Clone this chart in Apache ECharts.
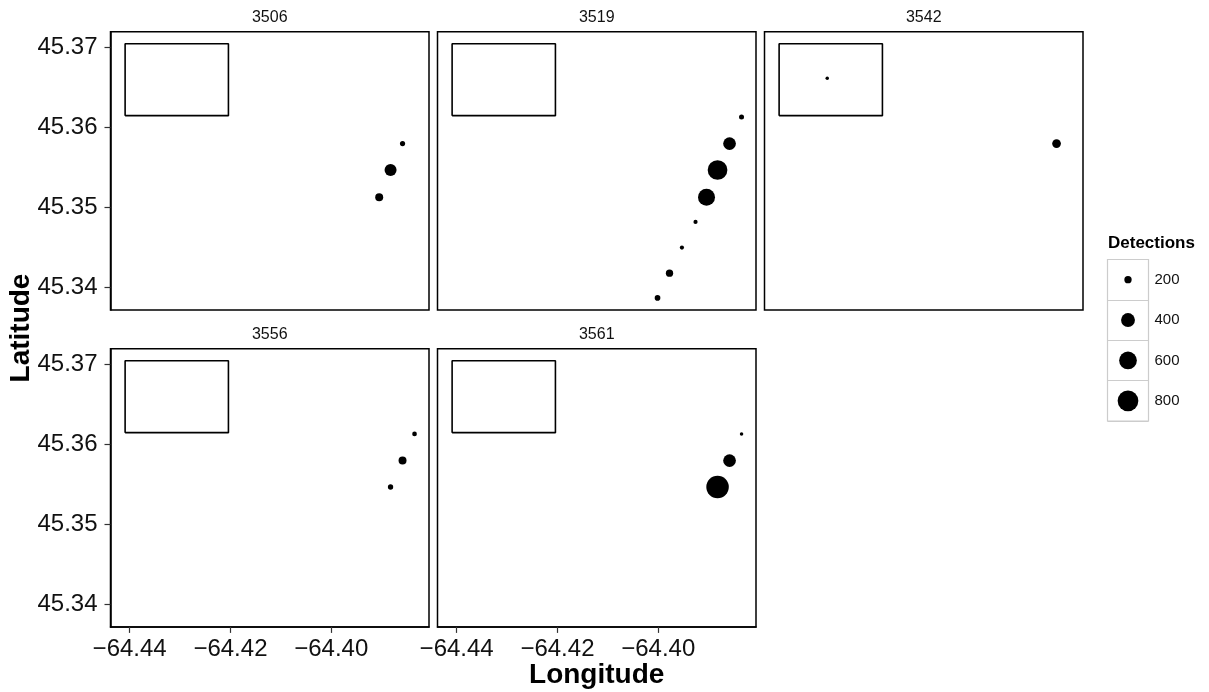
<!DOCTYPE html>
<html>
<head>
<meta charset="utf-8">
<script src="https://cdn.jsdelivr.net/npm/echarts@6/dist/echarts.min.js"></script>
<style>
html,body{margin:0;padding:0;background:#fff;}
#chart{width:1209px;height:692px;}
</style>
</head>
<body>
<div id="chart"></div>
<script>
// ---- data ----
const tagIds = ['3506', '3519', '3542', '3556', '3561'];

const lon3506 = [-64.38585, -64.38823, -64.39048];
const lat3506 = [45.3580, 45.3547, 45.3513];
const det3506 = [175, 323, 212];

const lon3519 = [-64.38347, -64.38585, -64.38823, -64.39042, -64.39260, -64.39530, -64.39776, -64.40014];
const lat3519 = [45.36134, 45.3580, 45.3547, 45.3513, 45.3482, 45.3450, 45.3418, 45.3387];
const det3519 = [174, 350, 729, 558, 170, 170, 200, 179];

const lon3542 = [-64.43135, -64.38585];
const lat3542 = [45.36618, 45.3580];
const det3542 = [169, 227];

const lon3556 = [-64.38347, -64.38585, -64.38823];
const lat3556 = [45.36134, 45.3580, 45.3547];
const det3556 = [172, 212, 176];

const lon3561 = [-64.38347, -64.38585, -64.38823];
const lat3561 = [45.36134, 45.3580, 45.3547];
const det3561 = [169, 350, 939];

const rectLon = [-64.4409, -64.4204];
const rectLat = [45.3615, 45.3705];

const xTicks = [-64.44, -64.42, -64.40];
const yTicks = [45.34, 45.35, 45.36, 45.37];
const legendValues = [200, 400, 600, 800];

const xRange = [-64.4438, -64.3806];
const yRange = [45.3372, 45.3720];

// ---- build ----
const FONT = '"Liberation Sans", Arial, Helvetica, sans-serif';
const lons = [lon3506, lon3519, lon3542, lon3556, lon3561];
const lats = [lat3506, lat3519, lat3542, lat3556, lat3561];
const dets = [det3506, det3519, det3542, det3556, det3561];

const allDet = [].concat(...dets);
const DMIN = Math.min(...allDet);
const DMAX = Math.max(...allDet);
function sizeOf(v) {
  const t = Math.max(0, v - DMIN) / (DMAX - DMIN);
  return 3.5 + 19 * Math.sqrt(t);
}
function fmt(v) {
  const s = Math.abs(v).toFixed(2);
  return (v < 0 ? '\u2212' : '') + s;
}

const colLeft = [110.5, 437.5, 764.5];
const rowTop = [31.7, 348.7];
const PW = 318.5, PH = 278.2;
const pos = [[0, 0], [0, 1], [0, 2], [1, 0], [1, 1]];
const showXLab = [false, false, false, true, true];
const showYLab = [true, false, false, true, false];

const grids = [], xAxes = [], yAxes = [], series = [], graphics = [];

tagIds.forEach((tag, i) => {
  const [r, c] = pos[i];
  grids.push({
    left: colLeft[c], top: rowTop[r], width: PW, height: PH,
    show: true, borderColor: '#000', borderWidth: 1.5, backgroundColor: '#fff'
  });
  xAxes.push({
    type: 'value', gridIndex: i, min: xRange[0], max: xRange[1], scale: true,
    splitLine: { show: false },
    axisLine: { show: showXLab[i], onZero: false, lineStyle: { color: '#000', width: 1.5 } },
    axisTick: { show: showXLab[i], length: 6, customValues: xTicks, lineStyle: { color: '#333', width: 1.2 } },
    axisLabel: { show: showXLab[i], customValues: xTicks, formatter: fmt, fontSize: 24,
      color: '#111', fontFamily: FONT, margin: 10 }
  });
  yAxes.push({
    type: 'value', gridIndex: i, min: yRange[0], max: yRange[1], scale: true,
    splitLine: { show: false },
    axisLine: { show: showYLab[i], onZero: false, lineStyle: { color: '#000', width: 1.5 } },
    axisTick: { show: showYLab[i], length: 6, customValues: yTicks, lineStyle: { color: '#333', width: 1.2 } },
    axisLabel: { show: showYLab[i], customValues: yTicks, formatter: v => v.toFixed(2), fontSize: 24,
      color: '#111', fontFamily: FONT, margin: 13 }
  });
  series.push({
    type: 'line', xAxisIndex: i, yAxisIndex: i, silent: true, symbol: 'none',
    data: [[rectLon[0], rectLat[0]], [rectLon[1], rectLat[0]], [rectLon[1], rectLat[1]],
           [rectLon[0], rectLat[1]], [rectLon[0], rectLat[0]]],
    lineStyle: { color: '#000', width: 1.6 }, z: 1
  });
  series.push({
    type: 'scatter', xAxisIndex: i, yAxisIndex: i, name: tag,
    data: lons[i].map((x, k) => [x, lats[i][k], dets[i][k]]),
    symbol: 'circle',
    symbolSize: val => sizeOf(val[2]),
    itemStyle: { color: '#000', opacity: 1 }, z: 3
  });
  graphics.push({
    type: 'text', x: colLeft[c] + PW / 2, y: rowTop[r] - 14.5,
    style: { text: tag, font: '16px ' + FONT, fill: '#111', align: 'center', verticalAlign: 'middle' }
  });
});

// legend as its own small grid
const LG = tagIds.length;
grids.push({ left: 1107.5, top: 259.5, width: 41, height: 161.5, show: true,
  borderColor: '#cccccc', borderWidth: 1.2, backgroundColor: '#fff' });
xAxes.push({ type: 'category', gridIndex: LG, data: ['k'], show: false });
yAxes.push({ type: 'category', gridIndex: LG, data: legendValues.map(String), inverse: true,
  position: 'right',
  axisLine: { show: false }, axisTick: { show: false },
  splitLine: { show: true, lineStyle: { color: '#cccccc', width: 1.2 } },
  axisLabel: { fontSize: 15, color: '#111', fontFamily: FONT, margin: 6 } });
series.push({
  type: 'scatter', xAxisIndex: LG, yAxisIndex: LG, silent: true,
  data: legendValues.map((v, k) => [0, k, v]),
  symbolSize: val => sizeOf(val[2]),
  itemStyle: { color: '#000', opacity: 1 }
});

graphics.push({
  type: 'text', x: 1108, y: 243.5,
  style: { text: 'Detections', font: 'bold 17px ' + FONT, fill: '#000', align: 'left', verticalAlign: 'middle' }
});
graphics.push({
  type: 'text', x: 596.7, y: 675,
  style: { text: 'Longitude', font: 'bold 28px ' + FONT, fill: '#000', align: 'center', verticalAlign: 'middle' }
});
graphics.push({
  type: 'text', x: 21, y: 328, rotation: Math.PI / 2,
  style: { text: 'Latitude', font: 'bold 28px ' + FONT, fill: '#000', align: 'center', verticalAlign: 'middle' }
});

const chart = echarts.init(document.getElementById('chart'), null, { renderer: 'canvas' });
chart.setOption({
  animation: false,
  backgroundColor: '#fff',
  grid: grids,
  xAxis: xAxes,
  yAxis: yAxes,
  series: series,
  graphic: graphics
});
</script>
</body>
</html>
